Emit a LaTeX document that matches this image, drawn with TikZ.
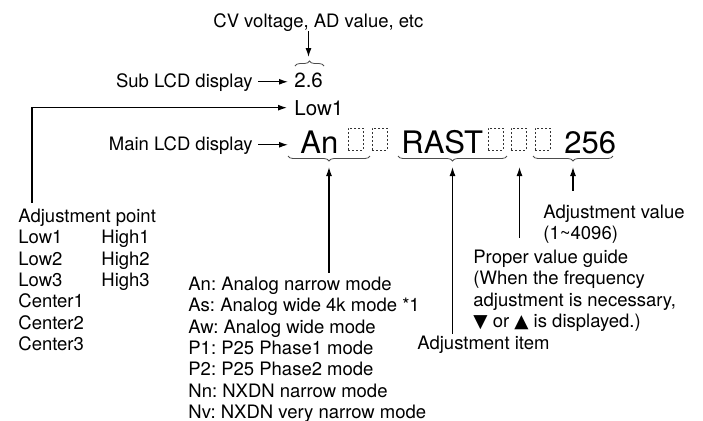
\documentclass[tikz,border=0pt]{standalone}
\usepackage{fontspec}
\setmainfont{TeX Gyre Heros}
\newfontfamily\symfont{DejaVu Sans}
\usepackage{tikz}
\usetikzlibrary{arrows.meta,positioning,calc,decorations.pathreplacing}
\frenchspacing

\begin{document}
\begin{tikzpicture}[
      x=0.5pt, y=-0.5pt,
      label/.style={inner sep=0pt, align=left,
                    font=\fontsize{9.25}{10.7}\selectfont},
      lcdsmall/.style={inner sep=0pt, font=\fontsize{10.25}{12}\selectfont},
      lcdbig/.style={inner sep=0pt, font=\fontsize{15.5}{18}\selectfont},
      cell/.style={draw=black!80, line width=0.4pt,
                   dash pattern=on 1.1pt off 0.9pt,
                   minimum width=7.5pt, minimum height=11pt, inner sep=0pt},
      arrow/.style={-{Latex[length=4.5pt,width=3pt]}, line width=0.6pt},
      overbrace/.style={decorate, decoration={brace, amplitude=2.5pt},
                        line width=0.4pt, draw=black!70},
      underbrace/.style={decorate, decoration={brace, mirror, amplitude=2.5pt},
                         line width=0.4pt, draw=black!70},
    ]
      \useasboundingbox (0,0) rectangle (703,420);
      % sub display
      \node[label, anchor=base west] (cv) at (213,27) {CV voltage, AD value, etc};
      \node[label, anchor=base east] (sub) at (253,87) {Sub LCD display};
      \node[lcdsmall, anchor=base west] (subval) at (294,87) {2.6};
      \node[lcdsmall, anchor=base west] (lowone) at (294,115) {Low1};
      \draw[overbrace] (295,66) -- (324,66);
      \coordinate (cvtip) at (308.5,57);
      \draw[arrow] (cv.south -| cvtip) -- (cvtip);
      \draw[arrow, shorten <=2.5pt, shorten >=3pt]
            (sub.mid east) -- (sub.mid east -| subval.west);
      % main display
      \node[label, anchor=base east] (main) at (253,150) {Main LCD display};
      \node[lcdbig, anchor=base west] (an) at (300,153) {An};
      \node[cell] (cella) at (355.5,139) {};
      \node[cell] (cellb) at (379.5,139) {};
      \node[lcdbig, anchor=base west] (rast) at (401,153) {RAST};
      \node[cell] (cellc) at (495.5,139) {};
      \node[cell] (celld) at (518.5,139) {};
      \node[cell] (celle) at (542.5,139) {};
      \node[lcdbig, anchor=base west] (val) at (564,153) {256};
      \draw[arrow, shorten <=2.5pt, shorten >=6pt]
            (main.mid east) -- (main.mid east -| an.west);
      \draw[underbrace] (288,156) -- (370,156);
      \draw[underbrace] (398,156) -- (507,156);
      \draw[underbrace] (533,156) -- (613,156);
      \coordinate (antip) at (329,167);
      \coordinate (rasttip) at (452.5,167);
      \coordinate (guidetip) at (519.5,167);
      \coordinate (valtip) at (573,167);
      % explanations
      \node[label, anchor=north west] (adjpt) at (18,208.5)
            {Adjustment point\\Low1\\Low2\\Low3\\Center1\\Center2\\Center3};
      \node[label, anchor=north west] (highcol) at (101,230)
            {High1\\High2\\High3};
      \node[label, anchor=north west] (modes) at (188,276.5)
            {An: Analog narrow mode\\As: Analog wide 4k mode *1\\
             Aw: Analog wide mode\\P1: P25 Phase1 mode\\P2: P25 Phase2 mode\\
             Nn: NXDN narrow mode\\Nv: NXDN very narrow mode};
      \node[label, anchor=north west] (item) at (417,335.5) {Adjustment item};
      \node[label, anchor=north west] (guide) at (473,249.5)
            {Proper value guide\\(When the frequency\\adjustment is necessary,\\
             {\symfont ▼} or {\symfont ▲} is displayed.)};
      \node[label, anchor=north west] (value) at (543,204.5)
            {Adjustment value\\(1\textasciitilde 4096)};
      \draw[arrow, shorten <=3pt, shorten >=3.5pt]
            ([xshift=7pt]adjpt.north west) |- (lowone.west);
      \draw[arrow, shorten <=2pt] (modes.north -| antip) -- (antip);
      \draw[arrow, shorten <=1pt] (item.north -| rasttip) -- (rasttip);
      \draw[arrow, shorten <=6pt] (guide.north -| guidetip) -- (guidetip);
      \draw[arrow, shorten <=7pt] (value.north -| valtip) -- (valtip);
    \end{tikzpicture}
\end{document}
